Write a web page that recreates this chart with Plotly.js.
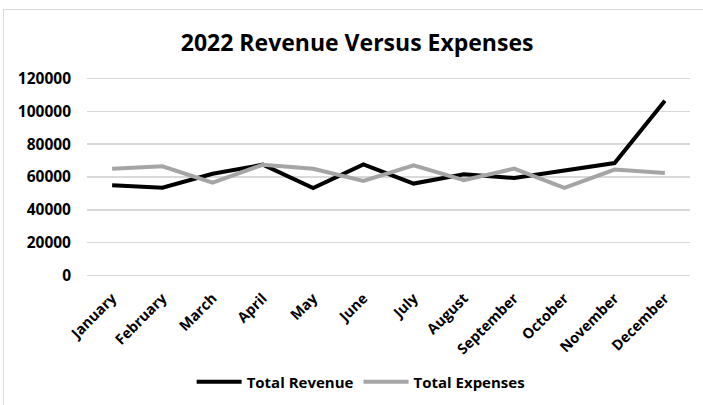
<!DOCTYPE html>
<html>
<head>
<meta charset="utf-8">
<script src="https://cdn.plot.ly/plotly-3.0.1.min.js"></script>
<style>
html,body{margin:0;padding:0;background:#fff;}
#wrap{position:relative;width:703px;height:405px;overflow:hidden;}
#chart{width:703px;height:405px;}
#frame{position:absolute;left:3px;top:9px;width:720px;height:420px;border:1.5px solid #d9d9d9;pointer-events:none;}
</style>
</head>
<body>
<div id="wrap"><div id="chart"></div><div id="frame"></div></div>
<script>
const months = ["January","February","March","April","May","June","July","August","September","October","November","December"];
const totalRevenue = [55000,53500,62000,67500,53300,67700,56000,61600,59400,64000,68500,106500];
const totalExpenses = [65000,66500,56600,67500,65000,57600,67100,58000,65100,53300,64500,62400];
const yTicks = [0,20000,40000,60000,80000,100000,120000];

const fontFam = "'Open Sans', 'Noto Sans', sans-serif";
const traces = [
  {x: months, y: totalRevenue, type: 'scatter', mode: 'lines', name: 'Total Revenue',
   line: {color: '#000000', width: 4}},
  {x: months, y: totalExpenses, type: 'scatter', mode: 'lines', name: 'Total Expenses',
   line: {color: '#a5a5a5', width: 4}}
];
const layout = {
  width: 703, height: 405,
  margin: {l: 87, r: 13, t: 77, b: 128},
  paper_bgcolor: '#fff', plot_bgcolor: '#fff',
  font: {family: fontFam, color: '#000', size: 12},
  title: {text: '<b>2022 Revenue Versus Expenses</b>', x: 0.508, xanchor: 'center', y: 0.893, yanchor: 'middle',
          font: {family: fontFam, size: 23, color: '#000'}},
  xaxis: {type: 'category', range: [-0.5, 11.5], automargin: false, tickangle: -45, showgrid: false,
          zeroline: false, showline: false, ticks: '', ticklabelstandoff: 9,
          tickfont: {family: fontFam, size: 14.5, color: '#000', weight: 'bold'}},
  yaxis: {range: [-1000, 121000], automargin: false, tickvals: yTicks, ticktext: yTicks.map(String), showgrid: true,
          gridcolor: '#d9d9d9', gridwidth: 1.5, zeroline: true, zerolinecolor: '#d9d9d9', zerolinewidth: 1.5,
          showline: false, ticks: '', ticklabelstandoff: 15,
          tickfont: {family: fontFam, size: 15.5, color: '#000', weight: 'bold'}},
  showlegend: true,
  legend: {orientation: 'h', xref: 'container', yref: 'container', x: 0.513, xanchor: 'center',
           y: 0.057, yanchor: 'middle', itemwidth: 45,
           font: {family: fontFam, size: 15, color: '#000', weight: 'bold'}, tracegroupgap: 0}
};
Plotly.newPlot('chart', traces, layout, {displayModeBar: false, staticPlot: true});
</script>
</body>
</html>
